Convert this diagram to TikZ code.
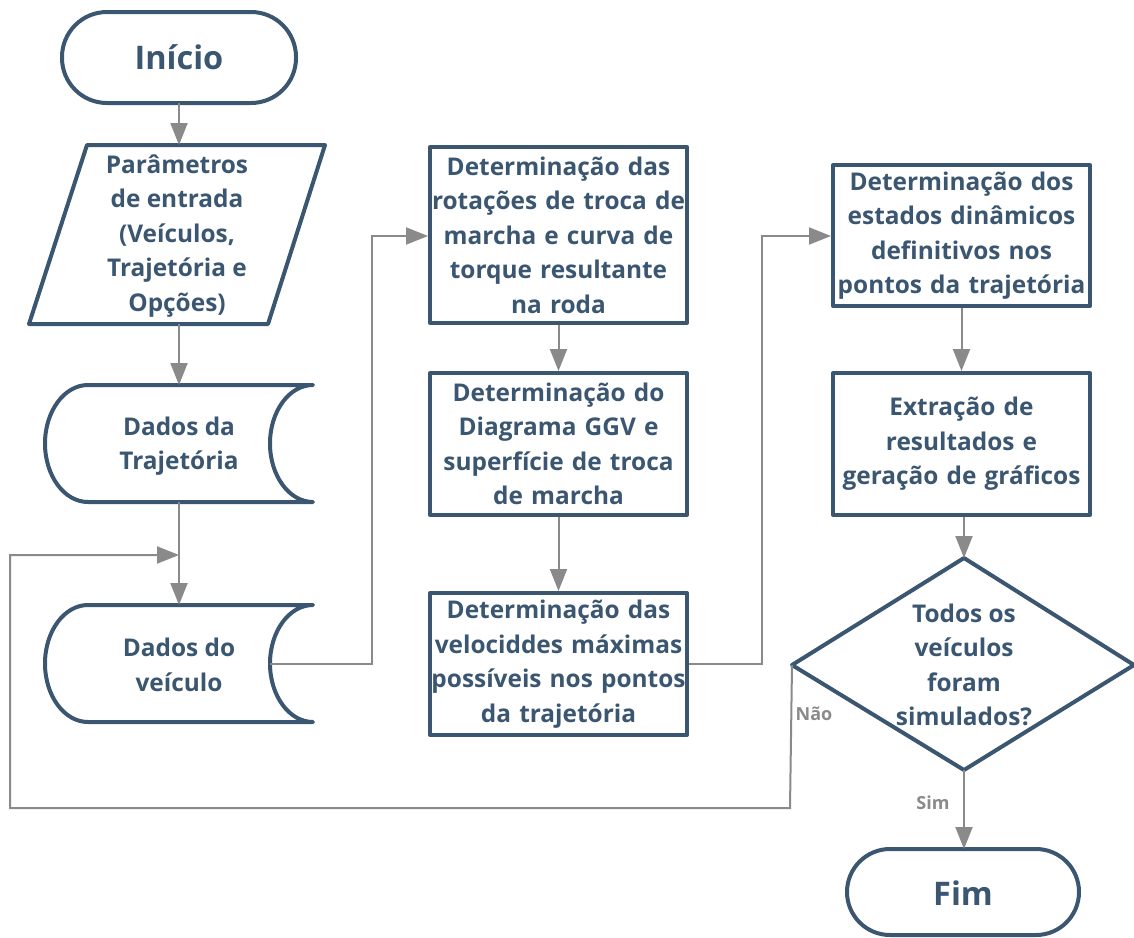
\documentclass[tikz,border=0pt]{standalone}
\usepackage{fontspec}
\setmainfont{Open Sans}
\usetikzlibrary{arrows.meta}
\definecolor{ink}{HTML}{3B5670}
\definecolor{wire}{HTML}{8A8A8A}
\tikzset{
  outline/.style={draw=ink, line width=4pt, line join=round},
  label/.style={text=ink, font=\bfseries\fontsize{24.4}{34.5}\selectfont, align=center, inner sep=0pt},
  terminal/.style={label, font=\bfseries\fontsize{32.5}{38}\selectfont},
  procbox/.style={outline, label, minimum width=257pt, text width=255pt},
  wireline/.style={draw=wire, line width=2pt, -{Triangle[length=22pt, width=17pt]}},
  branch/.style={text=wire, font=\bfseries\fontsize{18}{20}\selectfont, inner sep=0pt}
}
\begin{document}
\begin{tikzpicture}[x=1pt, y=-1pt]
\useasboundingbox (0,0) rectangle (1134,937);

% Terminal: start
\draw[outline, rounded corners=45pt] (62,12) rectangle (296,103);
\node[terminal] (inicio) at (179,57.5) {Início};
\coordinate (inicioS) at (179,103);

% Input parallelogram
\draw[outline] (87,145) -- (325,145) -- (268,324) -- (29,324) -- cycle;
\node[label] (param) at (177,236) {Parâmetros\\de entrada\\(Veículos,\\Trajetória e\\Opções)};
\coordinate (paramN) at (179,145);
\coordinate (paramS) at (179,324);

% Stored data: trajectory
\draw[outline] (88,385) -- (313,385) .. controls (289.25,385) and (270,411.2) .. (270,443.5)
  .. controls (270,475.8) and (289.25,502) .. (313,502) -- (88,502)
  .. controls (64.25,502) and (45,475.8) .. (45,443.5)
  .. controls (45,411.2) and (64.25,385) .. (88,385) -- cycle;
\node[label] (traj) at (179,446) {Dados da\\Trajetória};
\coordinate (trajN) at (179,385);
\coordinate (trajS) at (179,502);

% Stored data: vehicle
\draw[outline] (88,605) -- (313,605) .. controls (289.25,605) and (270,631.2) .. (270,663.5)
  .. controls (270,695.8) and (289.25,722) .. (313,722) -- (88,722)
  .. controls (64.25,722) and (45,695.8) .. (45,663.5)
  .. controls (45,631.2) and (64.25,605) .. (88,605) -- cycle;
\node[label] (veic) at (179,665) {Dados do\\veículo};
\coordinate (veicN) at (179,605);
\coordinate (veicE) at (270,663.5);

% Process boxes
\node[procbox, minimum height=176pt] (rot) at (558.5,235) {Determinação das\\rotações de troca de\\marcha e curva de\\torque resultante\\na roda};
\node[procbox, minimum height=142pt] (ggv) at (558.5,444) {Determinação do\\Diagrama GGV e\\superfície de troca\\de marcha};
\node[procbox, minimum height=142pt] (vmax) at (558.5,664) {Determinação das\\velociddes máximas\\possíveis nos pontos\\da trajetória};
\node[procbox, minimum height=141pt] (est) at (961.5,235.5) {Determinação dos\\estados dinâmicos\\definitivos nos\\pontos da trajetória};
\node[procbox, minimum height=142pt] (res) at (961.5,444) {Extração de\\resultados e\\geração de gráficos};

% Decision
\draw[outline] (964,558) -- (1134,665) -- (964,770) -- (792,665) -- cycle;
\node[label] (dec) at (964,665) {Todos os\\veículos\\foram\\simulados?};
\coordinate (decN) at (964,558);
\coordinate (decS) at (964,770);
\coordinate (decW) at (792,665);

% Terminal: end
\draw[outline, rounded corners=43pt] (847,849) rectangle (1079,935);
\node[terminal] (fim) at (963,893) {Fim};
\coordinate (fimN) at (964,849);

% Connectors
\draw[wireline] (inicioS) -- (paramN);
\draw[wireline] (paramS) -- (trajN);
\draw[wireline] (trajS) -- (veicN);
\coordinate (loopIn) at (179,555);
\draw[wireline] (decW) -- (790,808) -- (10,808) -- (10,555) -- (loopIn);
\draw[wireline] (veicE) -- (372,663.5) -- (372,236) -- (rot.west |- 0,236);
\draw[wireline] (rot) -- (ggv);
\draw[wireline] (ggv) -- (vmax);
\draw[wireline] (vmax.east) -- (762,664) -- (762,236) -- (est.west |- 0,236);
\draw[wireline] (est) -- (res);
\draw[wireline] (res.south -| decN) -- (decN);
\draw[wireline] (decS) -- (fimN);

% Branch labels
\node[branch] (nao) at (814,714) {Não};
\node[branch] (sim) at (933,803) {Sim};
\end{tikzpicture}
\end{document}
